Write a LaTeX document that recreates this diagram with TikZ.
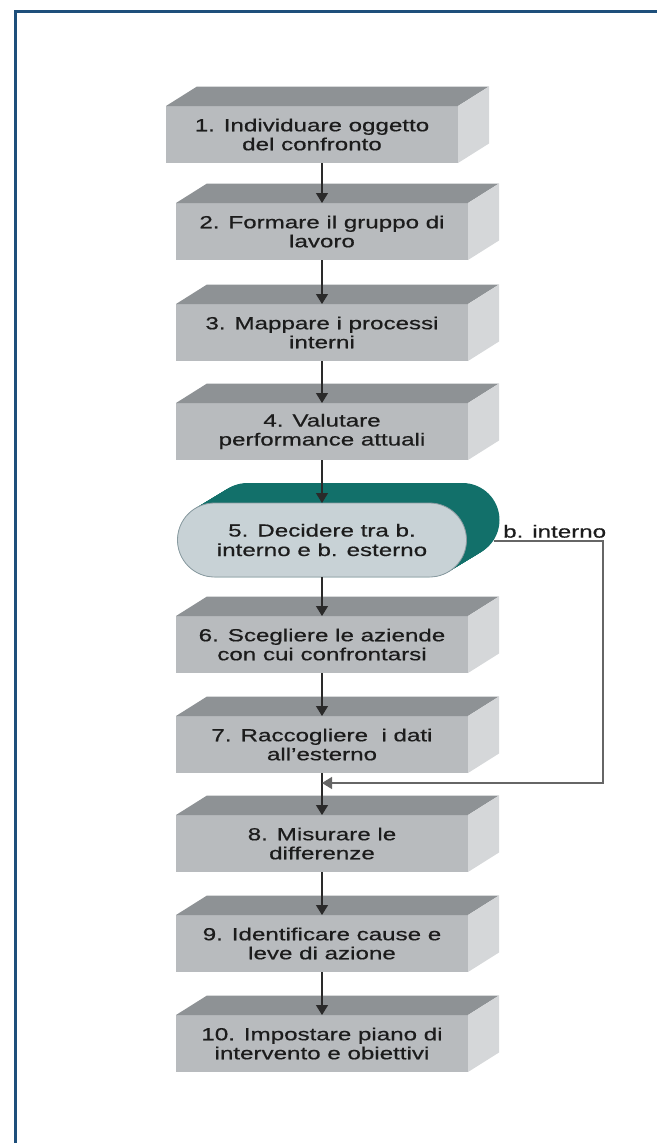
\documentclass[tikz,border=0pt]{standalone}
\usepackage{fontspec}
\newfontfamily\boxfont[FakeStretch=1.38,FakeBold=0.6]{Liberation Sans}
\usetikzlibrary{arrows.meta,backgrounds,calc}
\definecolor{frontc}{HTML}{B8BBBE}
\definecolor{topc}{HTML}{8E9295}
\definecolor{sidec}{HTML}{D5D7D9}
\definecolor{textc}{HTML}{1C1C1C}
\definecolor{linec}{HTML}{2A2A2A}
\definecolor{linegrey}{HTML}{666666}
\definecolor{ovalc}{HTML}{C8D2D6}
\definecolor{ovalline}{HTML}{8A9AA0}
\definecolor{tealc}{HTML}{12706A}
\definecolor{borderc}{HTML}{1E4F7B}
\newcommand\drawfaces[1]{%
  \fill[topc] (#1.north west) -- ++(31,-19.5) -- ($(#1.north east)+(31,-19.5)$) -- (#1.north east) -- cycle;
  \fill[sidec] (#1.north east) -- ++(31,-19.5) -- ($(#1.south east)+(31,-19.5)$) -- (#1.south east) -- cycle;
}
\begin{document}
\begin{tikzpicture}[x=1pt,y=-1pt,
  stepbox/.style={rectangle, fill=frontc, minimum width=292pt, minimum height=57pt,
    inner sep=0pt, outer sep=0pt, align=center,
    font=\boxfont\fontsize{17.5}{19}\selectfont, text=textc},
  decbox/.style={rectangle, rounded corners=37pt, fill=ovalc, draw=ovalline, line width=0.8pt,
    minimum width=289pt, minimum height=74pt, inner sep=0pt, outer sep=0pt, align=center,
    font=\boxfont\fontsize{17.5}{19.5}\selectfont, text=textc},
  lbl/.style={inner sep=0pt, font=\boxfont\fontsize{17.5}{19.5}\selectfont, text=textc},
  arr/.style={draw=linec, line width=1.3pt, -{Triangle[length=10pt,width=12pt]}},
  arrg/.style={draw=linegrey, line width=1.3pt, -{Triangle[length=10pt,width=12pt]}},
]
\useasboundingbox (0,0) rectangle (657,1143);
% frame
\draw[borderc, line width=3pt] (15,1143) -- (15,11) -- (657,11);

% steps
\node[stepbox] (b1) at (312,134.5) {1. Individuare oggetto\\del confronto};
\node[stepbox] (b2) at (322,231.5) {2. Formare il gruppo di\\lavoro};
\node[stepbox] (b3) at (322,332.5) {3. Mappare i processi\\interni};
\node[stepbox] (b4) at (322,431.5) {4. Valutare\\performance attuali};
\node[decbox]  (dec) at (322,540) {5. Decidere tra b.\\interno e b. esterno};
\node[stepbox] (b6) at (322,644.5) {6. Scegliere le aziende\\con cui confrontarsi};
\node[stepbox] (b7) at (322,744.5) {7. Raccogliere\ \ i dati\\all’esterno};
\node[stepbox] (b8) at (322,843.5) {8. Misurare le\\differenze};
\node[stepbox] (b9) at (322,943.5) {9. Identificare cause e\\leve di azione};
\node[stepbox] (b10) at (322,1043.5) {10. Impostare piano di\\intervento e obiettivi};

\foreach \n in {b1,b2,b3,b4,b6,b7,b8,b9,b10} {\drawfaces{\n}}

% extruded decision shape
\begin{pgfonlayer}{background}
\foreach \t in {0,0.04,...,1.001}
  \fill[tealc, rounded corners=37pt] ($(dec.south west)+(33*\t,-20*\t)$) rectangle ($(dec.north east)+(33*\t,-20*\t)$);
\end{pgfonlayer}

% label
\node[lbl, anchor=south west] (lb) at (503,538) {b. interno};

% connectors
\draw[arr] (b2.north |- b1.south) -- (b2.north);
\draw[arr] (b3.north |- b2.south) -- (b3.north);
\draw[arr] (b4.north |- b3.south) -- (b4.north);
\draw[arr] (dec.north |- b4.south) -- (dec.north);
\draw[arr] (b6.north |- dec.south) -- (b6.north);
\draw[arr] (b7.north |- b6.south) -- (b7.north);
\draw[arr] (b8.north |- b7.south) -- (b8.north);
\draw[arr] (b9.north |- b8.south) -- (b9.north);
\draw[arr] (b10.north |- b9.south) -- (b10.north);

\coordinate (c1) at (603,541);
\coordinate (c2) at (603,783);
\draw[arrg] ($(dec.east)+(27,1)$) -- (c1) -- (c2) -- (b8.north |- c2);
\end{tikzpicture}
\end{document}
